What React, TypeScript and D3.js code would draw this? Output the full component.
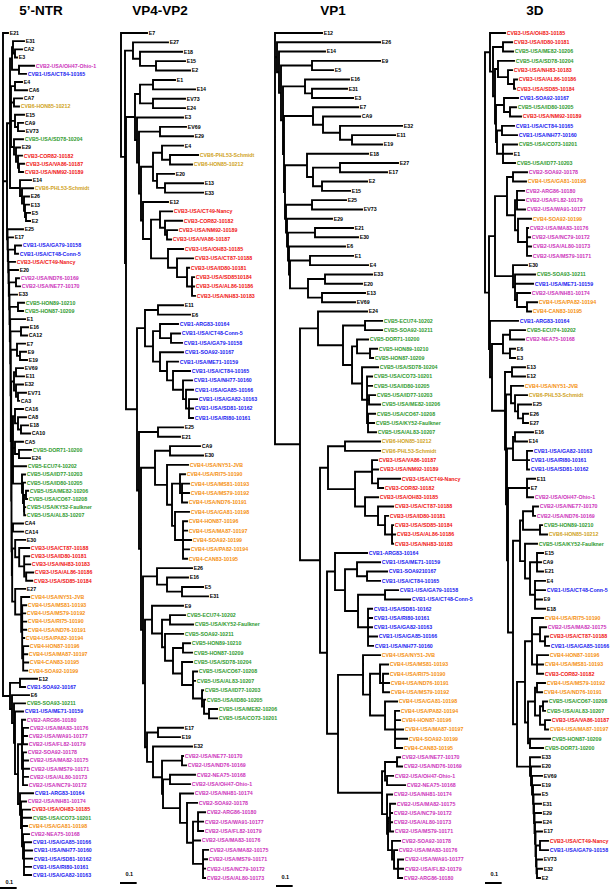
import React from "react";
import * as d3 from "d3";

// ---------------- data ----------------
const PANEL_TITLES = ["5\u2019-NTR", "VP4-VP2", "VP1", "3D"];
const SCALE_BAR_VALUE = 0.1;
const SCALE_BAR_LABEL = "0.1";
const SEROTYPES = ["CVB1", "CVB2", "CVB3", "CVB4", "CVB5", "CVB6"];
const SEROTYPE_COLORS = ["#1a1af0", "#cc33bb", "#f01414", "#f5900f", "#2f9a2f", "#cfa21c"];

// 5'-NTR tree (branch lengths in substitutions/site)
const NTR_TOP =
  "(((E31:0.066,(CA2:0.042,E3:0.012):0.012):0.006,(CVB2-USA/OH47-Ohio-1:0.09,CVB1-USA/CT84-10165:0.042):0.042):0.012," +
  "((E4:0.042,CA6:0.072):0.024,(CA7:0.048,CVB6-HON85-10212:0.03):0.018,(E15:0.054,(CA9:0.03,EV73:0.036):0.018):0.024," +
  "(CVB5-USA/SD78-10204:0.054,(E29:0.024,(CVB3-COR82-10182:0.024,(CVB3-USA/VA86-10187:0.03,CVB3-USA/NM92-10189:0.024):0.006):0.012):0.012):0.018):0.006," +
  "(E14:0.066,(CVB6-PHL53-Schmidt:0.066,(E26:0.03,(E13:0.024,(E5:0.024,E2:0.024):0.006):0.006):0.012):0.012):0.06):0.018";
const NTR_B =
  "((CA16:0.048,(CA8:0.048,(E18:0.042,CA10:0.054):0.018):0.018):0.012,(CA5:0.048,(CVB5-DOR71-10200:0.072,E24:0.066):0.024):0.012," +
  "CVB5-ECU74-10202:0.078,(CVB5-USA/ID77-10203:0.018,(CVB5-USA/ID80-10205:0.012,((CVB5-USA/ME82-10206:0.012,CVB5-USA/CO67-10208:0.006):0.012," +
  "(CVB5-USA/KY52-Faulkner:0.006,CVB5-USA/AL83-10207:0.006):0.001):0.006):0.006):0.054):0.009";
const NTR_E30 =
  "(E30:0.06,(CVB3-USA/CT87-10188:0.06,(CVB3-USA/ID80-10181:0.03,CVB3-USA/NH83-10183:0.036,(CVB3-USA/AL86-10186:0.042,CVB3-USA/SD85-10184:0.036):0.012):0.03):0.024):0.018";
const NTR_E27 =
  "(E27:0.06,(CVB4-USA/NY51-JVB:0.048,(CVB4-USA/MS81-10193:0.024,CVB4-USA/MS79-10192:0.018,CVB4-USA/RI75-10190:0.024,CVB4-USA/ND76-10191:0.024,CVB4-USA/PA82-10194:0.012," +
  "(CVB4-HON87-10196:0.03,CVB4-USA/MA87-10197:0.024,CVB4-CAN83-10195:0.03,CVB4-SOA92-10199:0.024):0.006):0.006):0.036):0.018";
const NTR_LADDER =
  "(E25:0.093,(E17:0.031,((CVB1-USA/GA79-10158:0.036,CVB1-USA/CT48-Conn-5:0.018):0.041,(CVB3-USA/CT49-Nancy:0.039,(E20:0.055," +
  "((CVB2-USA/ND76-10169:0.018,CVB2-USA/NE77-10170:0.024):0.041,(E33:0.045,((CVB5-HON89-10210:0.036,CVB5-HON87-10209:0.03):0.049," +
  "(E1:0.089,((E16:0.042,CA12:0.036):0.063,((E7:0.048,(E9:0.036,E19:0.042):0.018):0.037," +
  "(((EV69:0.042,E11:0.048):0.012,(E32:0.042,(EV71:0.048,CA3:0.006):0.012):0.012):0.017,(" + NTR_B +
  ",((CA4:0.06,CA14:0.06):0.007,(" + NTR_E30 + "," + NTR_E27 + ")" +
  ":0.002):0.002):0.002):0.002):0.002" +
  "):0.002):0.002):0.002):0.002):0.002" +
  "):0.002):0.002):0.002):0.002):0.003";
const NTR_C2 =
  "(CVB2-ARG86-10180:0.018,(CVB2-USA/MA83-10176:0.03,CVB2-USA/WA91-10177:0.024,CVB2-USA/FL82-10179:0.024):0.006," +
  "(CVB2-SOA92-10178:0.018,CVB2-USA/MA82-10175:0.03,CVB2-USA/MS79-10171:0.036,CVB2-USA/AL80-10173:0.03,CVB2-USA/NC79-10172:0.024):0.006):0.024";
const NTR_LOW =
  "((E12:0.102,CVB1-SOA92-10167:0.03):0.06,(E6:0.102,(CVB5-SOA93-10211:0.066,(CVB1-USA/ME71-10159:0.048,(" + NTR_C2 +
  ",(CVB1-ARG83-10164:0.078,(CVB2-USA/NH81-10174:0.03,(CVB3-USA/OH83-10185:0.048,CVB5-USA/CO73-10201:0.054,CVB4-USA/GA81-10198:0.03," +
  "(CVB2-NEA75-10168:0.036,(CVB1-USA/GA85-10166:0.042,CVB1-USA/NH77-10160:0.048,CVB1-USA/SD81-10162:0.048,CVB1-USA/RI80-10161:0.042,CVB1-USA/GA82-10163:0.042)" +
  ":0.006):0.006):0.006):0.006):0.012):0.018):0.006):0.012):0.012):0.042";
const NTR_TREE = "(E21:0.03,(" + NTR_TOP + "," + NTR_LADDER + "):0.024," + NTR_LOW + ");";

// VP4-VP2 tree
const VP4_T = "(E27:0.21,(E18:0.252,(E15:0.174,E2:0.204):0.096):0.042):0.048";
const VP4_C153 =
  "((E4:0.126,(CVB6-PHL53-Schmidt:0.168,CVB6-HON85-10212:0.132):0.048):0.054,(E20:0.102,(E13:0.228,E33:0.228):0.048):0.024):0.072";
const VP4_CVB3 =
  "((CVB3-USA/CT49-Nancy:0.072,(CVB3-COR82-10182:0.102,(CVB3-USA/NM92-10189:0.06,CVB3-USA/VA86-10187:0.024):0.012):0.03):0.054," +
  "(CVB3-USA/OH83-10185:0.09,(CVB3-USA/CT87-10188:0.096,(CVB3-USA/ID80-10181:0.012,(CVB3-USA/SD8510184:0.012,CVB3-USA/AL86-10186:0.012,CVB3-USA/NH83-10183:0.018):0.03):0.06):0.054):0.102):0.048";
const VP4_U =
  "(((E1:0.132,E14:0.252):0.078,(EV73:0.192,E24:0.192):0.078):0.03,(E3:0.276,((EV69:0.156,E29:0.198):0.126,(" + VP4_C153 +
  ",(E12:0.15," + VP4_CVB3 + "):0.012):0.012):0.012):0.012):0.054";
const VP4_CVB1 =
  "((CVB1-ARG83-10164:0.108,(CVB1-USA/CT48-Conn-5:0.054,CVB1-USA/GA79-10158:0.066):0.066):0.042,(CVB1-SOA92-10167:0.138,(CVB1-USA/ME71-10159:0.066," +
  "(CVB1-USA/CT84-10165:0.102,(CVB1-USA/NH77-10160:0.054,(CVB1-USA/GA85-10166:0.042,(CVB1-USA/GA82-10163:0.048,CVB1-USA/SD81-10162:0.024,CVB1-USA/RI80-10161:0.024)" +
  ":0.018):0.018):0.06):0.036):0.042):0.042):0.048";
const VP4_CVB4 =
  "(CVB4-USA/NY51-JVB:0.126,((CVB4-USA/RI75-10190:0.03,(CVB4-USA/MS81-10193:0.042,CVB4-USA/MS79-10192:0.042,CVB4-USA/ND76-10191:0.03):0.012):0.048," +
  "(CVB4-USA/GA81-10198:0.084,(CVB4-HON87-10196:0.024,CVB4-USA/MA87-10197:0.024,CVB4-SOA92-10199:0.048,CVB4-USA/PA82-10194:0.036,CVB4-CAN83-10195:0.024):0.048):0.018):0.03):0.072";
const VP4_CVB5 =
  "((CVB5-ECU74-10202:0.09,CVB5-USA/KY52-Faulkner:0.138):0.048,(CVB5-SOA92-10211:0.108,((CVB5-HON89-10210:0.042,CVB5-HON87-10209:0.054):0.06," +
  "(CVB5-USA/SD78-10204:0.06,(CVB5-USA/CO67-10208:0.024,CVB5-USA/AL83-10207:0.012,(CVB5-USA/ID77-10203:0.006,(CVB5-USA/ID80-10205:0.006," +
  "(CVB5-USA/ME82-10206:0.048,CVB5-USA/CO73-10201:0.048):0.03):0.012):0.054):0.066):0.054):0.048):0.018):0.06";
const VP4_CVB2 =
  "((CVB2-USA/NE77-10170:0.006,CVB2-USA/ND76-10169:0.024):0.12,((CVB2-NEA75-10168:0.15,CVB2-USA/OH47-Ohio-1:0.12):0.042,(CVB2-USA/NH81-10174:0.078," +
  "(CVB2-SOA92-10178:0.06,((CVB2-ARG86-10180:0.042,CVB2-USA/WA91-10177:0.03,CVB2-USA/FL82-10179:0.03):0.03,CVB2-USA/MA83-10176:0.042," +
  "(CVB2-USA/MA82-10175:0.03,CVB2-USA/MS79-10171:0.024,CVB2-USA/NC79-10172:0.012,CVB2-USA/AL80-10173:0.012):0.06):0.036):0.042):0.102):0.006):0.054";
const VP4_Z =
  "(((E11:0.15,E6:0.192):0.078," + VP4_CVB1 + "):0.048,((E25:0.15,E21:0.132):0.114,(((CA9:0.18,E30:0.198):0.09," + VP4_CVB4 +
  "):0.084,((E26:0.21,(E16:0.126,(E5:0.126,E31:0.156):0.09):0.06):0.084,((E9:0.186," + VP4_CVB5 +
  "):0.042,((E17:0.15,E19:0.132):0.066,(E32:0.234," + VP4_CVB2 + "):0.036):0.012):0.012):0.012):0.012):0.012):0.066";
const VP4_TREE = "(E7:0.156,(" + VP4_T + ",(" + VP4_U + "," + VP4_Z + "):0.006):0.024);";

// VP1 tree
const VP1_E =
  "(E26:0.618,(E14:0.276,((E9:0.408,E5:0.126):0.186,((E16:0.264,(E31:0.21,E3:0.246):0.042):0.132," +
  "((E7:0.27,(CA9:0.222,(E32:0.372,(E11:0.258,E19:0.18):0.072):0.102):0.06):0.174," +
  "((E18:0.366,((E27:0.348,E17:0.282):0.162,(E2:0.27,E15:0.168):0.054):0.036):0.132," +
  "((E25:0.204,EV73:0.3):0.156,(E29:0.27,((E21:0.228,E30:0.258):0.162,(E6:0.336,((E1:0.258,E4:0.348):0.12," +
  "((E33:0.282,E20:0.222):0.102,(E13:0.258,EV69:0.198):0.084):0.108)" +
  ":0.006):0.006):0.006):0.006):0.006):0.006):0.006):0.012):0.012):0.012):0.012";
const VP1_CVB5 =
  "((CVB5-ECU74-10202:0.102,CVB5-SOA92-10211:0.102):0.132,((CVB5-DOR71-10200:0.066,(CVB5-HON89-10210:0.042,CVB5-HON87-10209:0.018):0.078):0.03," +
  "(CVB5-USA/SD78-10204:0.096,(CVB5-USA/CO73-10201:0.03,CVB5-USA/ID80-10205:0.03,(CVB5-USA/ID77-10203:0.036,CVB5-USA/ME82-10206:0.066):0.012," +
  "(CVB5-USA/CO67-10208:0.042,CVB5-USA/KY52-Faulkner:0.036,CVB5-USA/AL83-10207:0.048):0.006):0.03):0.06):0.054):0.15";
const VP1_CVB3 =
  "((CVB3-USA/VA86-10187:0.03,CVB3-USA/NM92-10189:0.036,(CVB3-USA/CT49-Nancy:0.132,CVB3-COR82-10182:0.03):0.036):0.102," +
  "(CVB3-USA/OH83-10185:0.078,(CVB3-USA/CT87-10188:0.09,(CVB3-USA/ID80-10181:0.018,(CVB3-USA/SD85-10184:0.006,CVB3-USA/AL86-10186:0.018,CVB3-USA/NH83-10183:0.006):0.042):0.042):0.078):0.06):0.162";
const VP1_CVB1 =
  "(CVB1-ARG83-10164:0.192,((CVB1-USA/ME71-10159:0.138,(CVB1-SOA9210167:0.12,CVB1-USA/CT84-10165:0.078):0.06):0.072," +
  "((CVB1-USA/GA79-10158:0.078,CVB1-USA/CT48-Conn-5:0.15):0.162,(CVB1-USA/SD81-10162:0.024,CVB1-USA/RI80-10161:0.024,CVB1-USA/GA82-10163:0.024,CVB1-USA/GA85-10166:0.054,CVB1-USA/NH77-10160:0.03):0.06):0.078):0.06):0.048";
const VP1_CVB4 =
  "(CVB4-USA/NY51-JVB:0.102,((CVB4-USA/MS81-10193:0.048,(CVB4-USA/RI75-10190:0.03,CVB4-USA/ND76-10191:0.036,CVB4-USA/MS79-10192:0.036):0.018):0.06," +
  "(CVB4-USA/GA81-10198:0.072,(CVB4-USA/PA82-10194:0.024,CVB4-HON87-10196:0.03,CVB4-USA/MA87-10197:0.048,CVB4-SOA92-10199:0.072,CVB4-CAN83-10195:0.042):0.06):0.09):0.042):0.15";
const VP1_CVB2 =
  "(((CVB2-USA/NE77-10170:0.018,CVB2-USA/ND76-10169:0.03):0.072,(CVB2-USA/OH47-Ohio-1:0.036,CVB2-NEA75-10168:0.108):0.012):0.018," +
  "(CVB2-USA/NH81-10174:0.03,((CVB2-USA/MA82-10175:0.03,CVB2-USA/NC79-10172:0.012,CVB2-USA/AL80-10173:0.012,CVB2-USA/MS79-10171:0.018):0.012," +
  "(CVB2-SOA92-10178:0.048,(CVB2-USA/MA83-10176:0.018,(CVB2-USA/WA91-10177:0.03,CVB2-USA/FL82-10179:0.03,CVB2-ARG86-10180:0.024):0.024):0.012):0.024):0.006):0.03):0.264";
const VP1_P =
  "((E24:0.294," + VP1_CVB5 + "):0.108,(((CVB6-HON85-10212:0.21,CVB6-PHL53-Schmidt:0.21):0.102," + VP1_CVB3 +
  "):0.048,(" + VP1_CVB1 + ",(" + VP1_CVB4 + "," + VP1_CVB2 + "):0.066):0.042):0.12):0.15";
const VP1_TREE = "(E12:0.282," + VP1_E + "," + VP1_P + ");";

// 3D tree
const D3_T =
  "(CVB3-USA/OH83-10185:0.09,((CVB3-USA/ID80-10181:0.054,CVB5-USA/ME82-10206:0.06):0.06,((CVB5-USA/SD78-10204:0.096,(CVB3-USA/NH83-10183:0.024," +
  "(CVB3-USA/AL86-10186:0.018,CVB3-USA/SD85-10184:0.006):0.036):0.06):0.018,((CVB1-SOA92-10167:0.084,(CVB5-USA/ID80-10205:0.036,CVB3-USA/NM92-10189:0.066):0.036):0.048," +
  "((CVB1-USA/CT84-10165:0.072,CVB1-USA/NH77-10160:0.09):0.03,(CVB5-USA/CO73-10201:0.084,E1:0.054,CVB5-USA/ID77-10203:0.072):0.036)" +
  ":0.006):0.006):0.012):0.018):0.03";
const D3_G =
  "(((CVB2-SOA92-10178:0.084,CVB4-USA/GA81-10198:0.078):0.036,((CVB2-ARG86-10180:0.042,CVB2-USA/FL82-10179:0.042,CVB2-USA/WA91-10177:0.048):0.012," +
  "(CVB4-SOA92-10199:0.078,(CVB2-USA/MA83-10176:0.006,CVB2-USA/NC79-10172:0.018,CVB2-USA/AL80-10173:0.024,CVB2-USA/MS79-10171:0.024):0.054):0.018):0.048):0.072," +
  "(E30:0.084,(CVB5-SOA93-10211:0.12,CVB1-USA/ME71-10159:0.108,(CVB2-USA/NH81-10174:0.078,(CVB4-USA/PA82-10194:0.06,CVB4-CAN83-10195:0.024):0.06):0.012):0.012):0.108):0.036";
const D3_R10 =
  "(E33:0.06,(E20:0.054,(EV69:0.06,(E19:0.042,(E5:0.039,(E31:0.042,(E29:0.039,(E24:0.036,(E17:0.039," +
  "((CVB3-USA/CT49-Nancy:0.048,CVB1-USA/GA79-10158:0.048):0.024,(EV73:0.033,(E32:0.03,E2:0.018)" +
  ":0.003):0.003):0.003):0.003):0.003):0.003):0.003):0.003):0.006):0.006):0.006):0.078";
const D3_R9 =
  "(((CVB4-USA/RI75-10190:0.066,(CVB2-USA/MA82-10175:0.036,(CVB3-USA/CT87-10188:0.018,CVB1-USA/GA85-10166:0.024):0.03):0.048," +
  "(CVB4-HON87-10196:0.066,CVB4-USA/MS81-10193:0.036,CVB3-COR82-10182:0.036):0.03):0.042," +
  "(((CVB4-USA/MS79-10192:0.048,CVB4-USA/ND76-10191:0.03):0.012,((CVB5-USA/CO67-10208:0.024,CVB5-USA/AL83-10207:0.012):0.018," +
  "(CVB3-USA/VA86-10187:0.03,CVB4-USA/MA87-10197:0.018):0.03):0.03):0.042,(CVB5-HON87-10209:0.12,CVB5-DOR71-10200:0.078):0.012):0.018):0.048," +
  D3_R10 + "):0.024";
const D3_R8 =
  "((((CVB2-USA/NE77-10170:0.03,CVB2-USA/ND76-10169:0.012):0.06,(CVB5-HON89-10210:0.012,CVB6-HON85-10212:0.042):0.102):0.018," +
  "(CVB5-USA/KY52-Faulkner:0.072,((E15:0.036,CA9:0.024,E21:0.036):0.042,(E4:0.06,CVB1-USA/CT48-Conn-5:0.06,E9:0.042,E18:0.06):0.03):0.03):0.03):0.042," +
  D3_R9 + "):0.03";
const D3_R7 = "((E11:0.048,E7:0.012,CVB2-USA/OH47-Ohio-1:0.036):0.114," + D3_R8 + "):0.006";
const D3_R6 =
  "(((E16:0.108,E14:0.072):0.012,(CVB1-USA/GA82-10163:0.03,CVB1-USA/RI80-10161:0.012,CVB1-USA/SD81-10162:0.012):0.084):0.036," + D3_R7 + "):0.006";
const D3_R5 =
  "((CVB4-USA/NY51-JVB:0.072,(CVB6-PHL53-Schmidt:0.072,(E25:0.078,(E26:0.03,E27:0.03):0.03):0.018):0.024):0.03," + D3_R6 + "):0.006";
const D3_R4 = "((E13:0.078,E12:0.078):0.042," + D3_R5 + "):0.078";
const D3_TREE =
  "(" + D3_T + ",(" + D3_G + ",(CVB1-ARG83-10164:0.168,(((CVB5-ECU74-10202:0.09,CVB2-NEA75-10168:0.084):0.042,(E6:0.03,E3:0.03):0.042):0.066," +
  D3_R4 + "):0.012):0.006):0.024);";

const TREES = [NTR_TREE, VP4_TREE, VP1_TREE, D3_TREE];

// ---------------- layout (not data) ----------------
const W = 611;
const H = 890;
const PX_PER_UNIT = 166.7;
const LAYOUT = [
  { rootX: 3, y0: 33, y1: 875, titleX: 41, barX: 0, barY: 888, barTextY: 884 },
  { rootX: 121, y0: 33, y1: 878, titleX: 160, barX: 120, barY: 883, barTextY: 875.5 },
  { rootX: 275, y0: 33, y1: 878, titleX: 333, barX: 276, barY: 886, barTextY: 879 },
  { rootX: 485, y0: 33, y1: 878, titleX: 535, barX: 485, barY: 883, barTextY: 876 },
];
const FONT = "'Liberation Sans', Arial, Helvetica, sans-serif";

type TNode = { name: string; length: number; children: TNode[] };

function parseNewick(str: string): TNode {
  const s = str.replace(/\s+/g, "");
  let i = 0;
  function parse(): TNode {
    const node: TNode = { name: "", length: 0, children: [] };
    if (s[i] === "(") {
      i++;
      node.children.push(parse());
      while (s[i] === ",") {
        i++;
        node.children.push(parse());
      }
      if (s[i] !== ")") throw new Error("Expected ) at " + i + " got " + s[i]);
      i++;
    }
    let st = i;
    while (i < s.length && !"(),:;".includes(s[i])) i++;
    node.name = s.slice(st, i);
    if (s[i] === ":") {
      i++;
      st = i;
      while (i < s.length && !"(),;".includes(s[i])) i++;
      node.length = parseFloat(s.slice(st, i));
    }
    return node;
  }
  const r = parse();
  if (s[i] !== ";") throw new Error("Trailing at " + i + ": " + s.slice(i, i + 20));
  return r;
}

function colorFor(name: string) {
  const k = SEROTYPES.findIndex((p) => name.startsWith(p));
  return k >= 0 ? SEROTYPE_COLORS[k] : "#000";
}

function TreePanel({ newick, layout, title }: { newick: string; layout: any; title: string }) {
  let data: TNode;
  try {
    data = parseNewick(newick);
  } catch (e: any) {
    return (
      <text x={layout.rootX} y={100} fontSize={8} fill="red">
        {String(e.message)}
      </text>
    );
  }
  const root: any = d3.hierarchy(data, (d: TNode) => (d.children.length ? d.children : null));
  root.eachBefore((d: any) => {
    d.dist = d.parent ? d.parent.dist + d.data.length : 0;
  });
  const leaves = root.leaves();
  const yScale = d3.scaleLinear().domain([0, leaves.length - 1]).range([layout.y0, layout.y1]);
  leaves.forEach((l: any, k: number) => {
    l.py = yScale(k);
  });
  root.eachAfter((d: any) => {
    if (d.children) d.py = (d.children[0].py + d.children[d.children.length - 1].py) / 2;
  });
  const xScale = d3.scaleLinear().domain([0, 1]).range([layout.rootX, layout.rootX + PX_PER_UNIT]);
  let path = "";
  root.descendants().forEach((n: any) => {
    if (n.parent) path += `M${xScale(n.parent.dist).toFixed(2)},${n.py.toFixed(2)}H${xScale(n.dist).toFixed(2)}`;
    if (n.children)
      path += `M${xScale(n.dist).toFixed(2)},${n.children[0].py.toFixed(2)}V${n.children[n.children.length - 1].py.toFixed(2)}`;
  });
  const barLen = xScale(SCALE_BAR_VALUE) - xScale(0);
  return (
    <g>
      <text x={layout.titleX} y={15} textAnchor="middle" fontFamily={FONT} fontWeight="bold" fontSize={13.5} fill="#000">
        {title}
      </text>
      <path d={path} fill="none" stroke="#000" strokeWidth={1.9} strokeLinecap="square" />
      {leaves.map((l: any, k: number) => (
        <text
          key={k}
          x={xScale(l.dist) + 1.7}
          y={l.py}
          dy="0.36em"
          fontFamily={FONT}
          fontWeight="bold"
          fontSize={5.25}
          fill={colorFor(l.data.name)}
        >
          {l.data.name}
        </text>
      ))}
      <line x1={layout.barX} x2={layout.barX + barLen} y1={layout.barY} y2={layout.barY} stroke="#000" strokeWidth={2} />
      <text
        x={layout.barX + barLen / 2 + 1}
        y={layout.barTextY}
        textAnchor="middle"
        fontFamily={FONT}
        fontWeight="bold"
        fontSize={5.5}
        fill="#000"
      >
        {SCALE_BAR_LABEL}
      </text>
    </g>
  );
}

export default function App() {
  return (
    <svg
      width={W}
      height={H}
      viewBox={`0 0 ${W} ${H}`}
      style={{ position: "absolute", left: 0, top: 0, background: "#fff" }}
    >
      <rect x={0} y={0} width={W} height={H} fill="#fff" />
      {TREES.map((t, k) => (
        <TreePanel key={k} newick={t} layout={LAYOUT[k]} title={PANEL_TITLES[k]} />
      ))}
    </svg>
  );
}
